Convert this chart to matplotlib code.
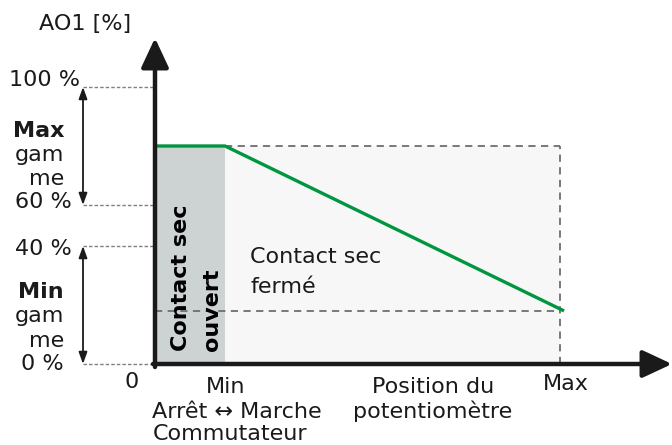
import numpy as np
from matplotlib import pyplot as plt

# schematic levels (not to scale): percent -> vertical position
pct_levels = [0, 40, 60, 100]
level_pos = [0, 118, 159, 277]
pct_labels = ["0 %", "40 %", "60 %", "100 %"]

# potentiometer position (Max = 100)
x_min = 17.3
x_max = 100
curve_x = [0, x_min, 101]
curve_pct = [80, 80, 18]

PX = 4.05  # pixels per x unit
X0, Y0 = 155, 364  # origin in pixels


def ypos(pct):
    return np.interp(pct, pct_levels, level_pos)


def at(px, py):
    # pixel position -> data coordinates
    return (px - X0) / PX, Y0 - py


fig = plt.figure(figsize=(6.72, 4.45), dpi=100)
ax = fig.add_axes([0, 0, 1, 1])
ax.set_xlim(-X0 / PX, (672 - X0) / PX)
ax.set_ylim(-(445 - Y0), Y0)
ax.axis('off')

y_top = ypos(curve_pct[0])
y_end = ypos(curve_pct[-1])

# shaded regions
ax.fill_between([0, x_min], 0, y_top, color='#cdd3d3', lw=0, zorder=1)
ax.fill_between([x_min, x_max], 0, y_top, color='#f7f7f7', lw=0, zorder=1)

# dashed guides inside the diagram
ax.plot([x_min, x_max], [y_top, y_top], color='#6e6e6e', lw=1.3, dashes=(4, 3), zorder=2)
ax.plot([x_max, x_max], [0, y_top], color='#6e6e6e', lw=1.3, dashes=(4, 3), zorder=2)
ax.plot([0, x_max], [y_end, y_end], color='#6e6e6e', lw=1.3, dashes=(4, 3), zorder=2)

# dashed guides from percent labels
x_lab = at(83, 0)[0]
for p in pct_levels:
    ax.plot([x_lab, 0], [ypos(p), ypos(p)], color='#808080', lw=1, dashes=(2.5, 1.5), zorder=2)

# range arrows
for lo, hi in [(60, 100), (0, 40)]:
    ax.annotate('', xy=(x_lab, ypos(hi)), xytext=(x_lab, ypos(lo)),
                arrowprops=dict(arrowstyle='<|-|>,head_length=0.5,head_width=0.18',
                                lw=1.3, color='#1a1a1a', mutation_scale=14,
                                shrinkA=0, shrinkB=0))

# green output curve
ax.plot(curve_x, ypos(curve_pct), color='#009640', lw=2.4, zorder=4, solid_capstyle='butt')

# axes with arrows
ax.annotate('', xy=at(155, 38), xytext=at(155, 367),
            arrowprops=dict(arrowstyle='-|>,head_length=0.9,head_width=0.42',
                            lw=3.2, color='#1a1a1a', mutation_scale=20,
                            shrinkA=0, shrinkB=0), zorder=5)
ax.annotate('', xy=at(672, 364), xytext=at(153, 364),
            arrowprops=dict(arrowstyle='-|>,head_length=0.9,head_width=0.42',
                            lw=3.2, color='#1a1a1a', mutation_scale=20,
                            shrinkA=0, shrinkB=0), zorder=5)

fs = 16
tc = '#1a1a1a'


def label(px, py, s, ha='center', **kw):
    ax.text(*at(px, py), s, fontsize=fs, color=tc, ha=ha, va='baseline', **kw)


label(85, 30, "AO1 [%]")

label_px = {100: (80, 86), 60: (72, 208), 40: (72, 255), 0: (64, 370)}
for p, lab in zip(pct_levels, pct_labels):
    label(*label_px[p], lab, ha='right')

for py, txt, w in [(137, "Max", 'bold'), (161, "gam", 'normal'), (185, "me", 'normal'),
                   (298, "Min", 'bold'), (322, "gam", 'normal'), (347, "me", 'normal')]:
    label(64, py, txt, ha='right', fontweight=w)

label(132, 388, "0")
label(226, 393, "Min")
label(237, 418, "Arrêt \u2194 Marche")
label(230, 440, "Commutateur")
label(433, 393, "Position du")
label(433, 418, "potentiomètre")
label(566, 390, "Max")

label(250, 263, "Contact sec", ha='left')
label(250, 293, "fermé", ha='left')

for bx, txt in [(187, "Contact sec"), (218, "ouvert")]:
    ax.text(*at(bx, 351), txt, fontsize=fs, color='black', ha='left', va='baseline',
            rotation=90, rotation_mode='anchor', fontweight='bold', zorder=6)

fig.savefig('out.png', dpi=100)
